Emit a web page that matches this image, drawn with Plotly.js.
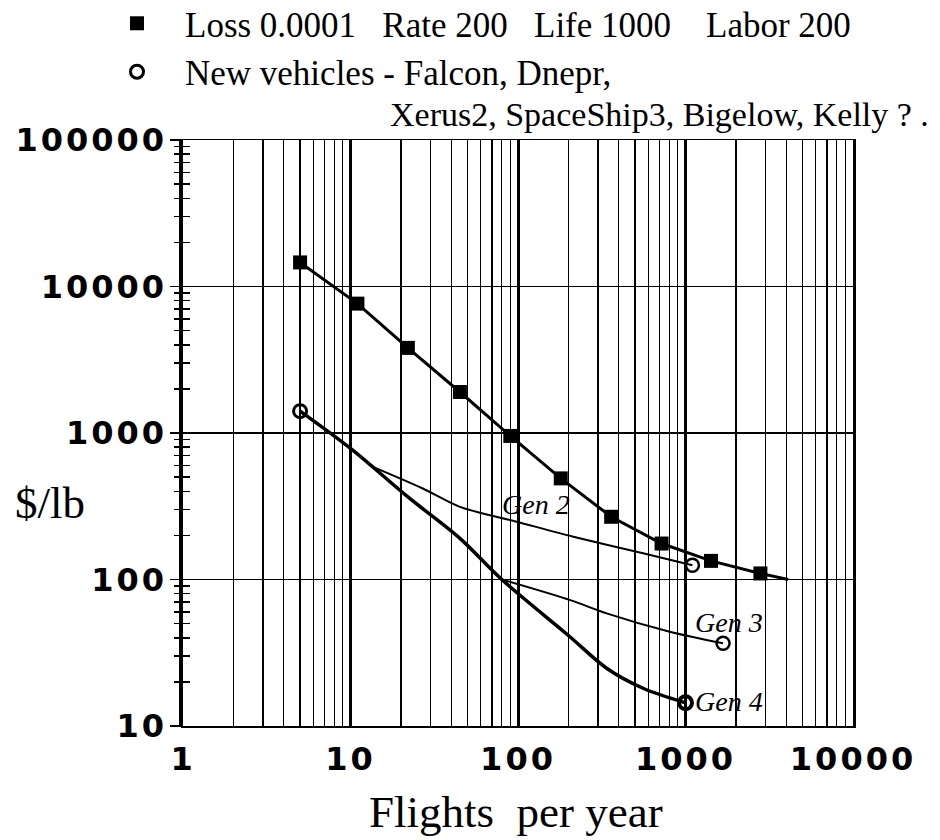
<!DOCTYPE html>
<html>
<head>
<meta charset="utf-8">
<script src="https://cdn.plot.ly/plotly-3.0.1.min.js"></script>
<style>
body{margin:0;padding:0;background:#fff;}
.xtick text, .ytick text { letter-spacing: 3px; }
</style>
</head>
<body>
<div id="chart" style="width:940px;height:840px;"></div>
<script>
// Loss 0.0001 Rate 200 Life 1000 Labor 200 curve
const lossX = [5, 11, 22, 45, 90, 180, 360, 720, 1420, 2800, 4100];
const lossY = [14600, 7640, 3810, 1905, 955, 490, 268, 176, 134, 110, 100];
const lossMarkX = [5, 11, 22, 45, 90, 180, 360, 720, 1420, 2800];
const lossMarkY = [14600, 7640, 3810, 1905, 955, 490, 268, 176, 134, 110];

// New vehicle curves
const gen4X = [5, 10.3, 22, 45, 80, 200, 338, 558, 1000];
const gen4Y = [1410, 764, 366, 191, 100, 41.5, 24.8, 18.1, 14.4];
const gen2X = [13.6, 27, 45, 98, 214, 558, 1100];
const gen2Y = [587, 418, 313, 248, 196, 151, 125];
const gen3X = [80, 205, 338, 805, 1676];
const gen3Y = [100, 72.3, 58.7, 44, 36.7];

// open circle points
const newX = [5, 1100, 1676, 1000];
const newY = [1410, 125, 36.7, 14.4];

const xTickVals = [1, 10, 100, 1000, 10000];
const xTickText = ['1', '10', '100', '1000', '10000'];
const yTickVals = [10, 100, 1000, 10000, 100000];
const yTickText = ['10', '100', '1000', '10000', '100000'];

const genLabels = ['Gen 2', 'Gen 3', 'Gen 4'];
const genLabelX = [78, 1110, 1110];
const genLabelY = [325, 50.5, 14.8];

const legendLoss = 'Loss 0.0001\u00A0\u00A0 Rate 200\u00A0\u00A0 Life 1000\u00A0\u00A0\u00A0 Labor 200';
const legendNew = 'New vehicles - Falcon, Dnepr,';
const legendNewCont = 'Xerus2, SpaceShip3, Bigelow, Kelly ? .';

const serif = 'Liberation Serif';
const sans = 'DejaVu Sans';

const traces = [
  {x: lossX, y: lossY, mode: 'lines', line: {color: '#000', width: 3}, showlegend: false, hoverinfo: 'skip'},
  {x: gen4X, y: gen4Y, mode: 'lines', line: {color: '#000', width: 3.5, shape: 'spline', smoothing: 0.9}, showlegend: false, hoverinfo: 'skip'},
  {x: gen2X, y: gen2Y, mode: 'lines', line: {color: '#000', width: 2, shape: 'spline', smoothing: 0.8}, showlegend: false, hoverinfo: 'skip'},
  {x: gen3X, y: gen3Y, mode: 'lines', line: {color: '#000', width: 2, shape: 'spline', smoothing: 0.8}, showlegend: false, hoverinfo: 'skip', yaxis: 'y2'},
  {x: lossMarkX, y: lossMarkY, mode: 'markers', name: legendLoss,
   marker: {symbol: 'square', size: 14, color: '#000'}},
  {x: newX, y: newY, mode: 'markers', name: legendNew,
   marker: {symbol: 'circle-open', size: 13, color: '#000', line: {width: [3, 2.5, 2.5, 4], color: '#000'}}}
];

const annotations = genLabels.map((t, i) => ({
  x: Math.log10(genLabelX[i]), y: Math.log10(genLabelY[i]), xref: 'x', yref: 'y',
  text: t, showarrow: false, xanchor: 'left', yanchor: 'middle',
  font: {family: serif, size: 28, style: 'italic', color: '#000'}
}));
annotations.push({
  x: 0.306, y: 1.0443, xref: 'paper', yref: 'paper', text: legendNewCont, showarrow: false,
  xanchor: 'left', yanchor: 'middle', font: {family: serif, size: 34, color: '#000'}
});
annotations.push({
  x: -0.1985, y: 0.3805, xref: 'paper', yref: 'paper', text: '$/lb', showarrow: false,
  xanchor: 'center', yanchor: 'middle', font: {family: serif, size: 45, color: '#000'}
});
annotations.push({
  x: 0.497, y: -0.1468, xref: 'paper', yref: 'paper', text: 'Flights\u00A0 per year', showarrow: false,
  xanchor: 'center', yanchor: 'middle', font: {family: serif, size: 45, color: '#000'}
});

const tickFont = {family: sans, size: 32, weight: 'bold', color: '#000'};

const layout = {
  width: 940, height: 840,
  margin: {l: 183, r: 87, t: 140, b: 114, autoexpand: false},
  paper_bgcolor: '#fff', plot_bgcolor: '#fff',
  font: {family: serif, color: '#000'},
  showlegend: true,
  legend: {x: -0.1403, y: 1.2491, xanchor: 'left', yanchor: 'top', valign: 'middle', itemwidth: 86,
           font: {family: serif, size: 35, color: '#000'}, bgcolor: 'rgba(0,0,0,0)', borderwidth: 0},
  xaxis: {type: 'log', range: [0, 4], tickmode: 'array', tickvals: xTickVals, ticktext: xTickText,
          showgrid: true, gridcolor: '#000', gridwidth: 3, ticks: '',
          showline: true, linecolor: '#000', linewidth: 1.5, mirror: true,
          tickfont: tickFont, ticklabelstandoff: 4,
          minor: {dtick: 'D1', showgrid: true, gridcolor: '#000', gridwidth: 1.2, ticks: ''}},
  yaxis: {type: 'log', range: [1, 5], tickmode: 'array', tickvals: yTickVals, ticktext: yTickText,
          showgrid: true, gridcolor: '#000', gridwidth: 1.5,
          ticks: 'outside', ticklen: 11, tickwidth: 1.5, tickcolor: '#000',
          showline: true, linecolor: '#000', linewidth: 2.5, mirror: true,
          tickfont: tickFont, ticklabelstandoff: -4,
          minor: {dtick: 'D1', ticks: 'outside', ticklen: 7, tickwidth: 1.5, tickcolor: '#000', showgrid: false}},
  yaxis2: {type: 'log', range: [1, 5], overlaying: 'y', side: 'left', anchor: 'x',
           showgrid: false, showticklabels: false,
           ticks: 'inside', ticklen: 8, tickwidth: 1.5, tickcolor: '#000', tickmode: 'array', tickvals: yTickVals,
           showline: true, linecolor: '#000', linewidth: 4,
           minor: {dtick: 'D1', ticks: 'inside', ticklen: 7, tickwidth: 1.5, tickcolor: '#000', showgrid: false}},
  annotations: annotations
};

Plotly.newPlot('chart', traces, layout, {displayModeBar: false, staticPlot: true});
</script>
</body>
</html>
